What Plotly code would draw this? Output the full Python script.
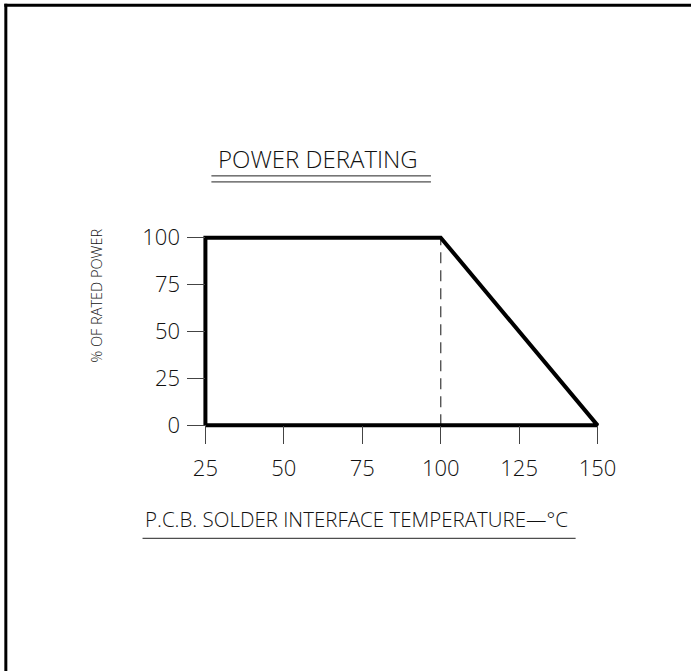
import plotly.graph_objects as go

# ---- data ----
temp_pts = [25, 25, 100, 150, 25]        # derating outline, temperature (°C)
power_pts = [0, 100, 100, 0, 0]          # % of rated power
knee_temp = [100, 100]                   # dashed knee marker
knee_power = [0, 100]
x_ticks = [25, 50, 75, 100, 125, 150]
y_ticks = [0, 25, 50, 75, 100]
title_text = "POWER DERATING"
x_title = "P.C.B. SOLDER INTERFACE TEMPERATURE\u2014\u00b0C"
y_title = "% OF RATED POWER"

W, H = 691, 671
# plot geometry (pixels)
X0PX, X1PX = 205, 598      # x=25 .. x=150
Y0PX, Y1PX = 425, 238      # y=0 .. y=100
xmin_d, xmax_d = min(x_ticks), max(x_ticks)
ymin_d, ymax_d = min(y_ticks), max(y_ticks)
padx, pady = 3, 3
sx = (X1PX - X0PX) / (xmax_d - xmin_d)
sy = (Y0PX - Y1PX) / (ymax_d - ymin_d)
xr = [xmin_d - padx, xmax_d + padx]
yr = [ymin_d - pady, ymax_d + pady]
L = X0PX - padx * sx
R = W - (X1PX + padx * sx)
T = Y1PX - pady * sy
B = H - (Y0PX + pady * sy)
PW = W - L - R
PH = H - T - B

def px(x):
    return (x - L) / PW

def py(y):
    return 1 - (y - T) / PH

FONT = "Open Sans"
TXT = "#111111"

fig = go.Figure()
fig.add_trace(go.Scatter(x=knee_temp, y=knee_power, mode="lines",
                         line=dict(color="#555555", width=1.4, dash="11px,7px"),
                         hoverinfo="skip", showlegend=False))
fig.add_trace(go.Scatter(x=temp_pts, y=power_pts, mode="lines",
                         line=dict(color="black", width=4),
                         hoverinfo="skip", showlegend=False))

shapes = [
    # drawing frame
    dict(type="line", xref="paper", yref="paper", x0=px(5), x1=px(5), y0=py(5), y1=py(H + 2),
         line=dict(color="black", width=3)),
    dict(type="line", xref="paper", yref="paper", x0=px(3.5), x1=px(W + 2), y0=py(6.5), y1=py(6.5),
         line=dict(color="black", width=3)),
    # title double underline
    dict(type="line", xref="paper", yref="paper", x0=px(211), x1=px(431), y0=py(176.5), y1=py(176.5),
         line=dict(color="#222222", width=1)),
    dict(type="line", xref="paper", yref="paper", x0=px(211), x1=px(431), y0=py(182.5), y1=py(182.5),
         line=dict(color="#222222", width=1)),
    # x title underline
    dict(type="line", xref="paper", yref="paper", x0=px(142), x1=px(576), y0=py(537.5), y1=py(537.5),
         line=dict(color="#222222", width=1)),
]

annotations = [
    dict(text=title_text, xref="paper", yref="paper", x=px(318), y=py(159), showarrow=False,
         xanchor="center", yanchor="middle", font=dict(family=FONT, size=24, color=TXT, weight=300)),
    dict(text=x_title, xref="paper", yref="paper", x=px(142), y=py(518), showarrow=False,
         xanchor="left", yanchor="middle", font=dict(family=FONT, size=20.5, color=TXT, weight=300)),
    dict(text=y_title, xref="paper", yref="paper", x=px(96), y=py(296), showarrow=False,
         textangle=-90, xanchor="center", yanchor="middle",
         font=dict(family=FONT, size=14.5, color=TXT, weight=300)),
]

fig.update_layout(
    width=W, height=H,
    margin=dict(l=L, r=R, t=T, b=B, pad=0),
    paper_bgcolor="white", plot_bgcolor="white",
    showlegend=False,
    shapes=shapes, annotations=annotations,
    xaxis=dict(range=xr, tickvals=x_ticks, ticktext=[str(v) for v in x_ticks],
               ticks="outside", ticklen=18, tickwidth=1.3, tickcolor="#444444",
               showgrid=False, zeroline=False, showline=False,
               anchor="free", position=(0 - yr[0]) / (yr[1] - yr[0]),
               ticklabelstandoff=5,
               tickfont=dict(family=FONT, size=22, color=TXT, weight=300), fixedrange=True),
    yaxis=dict(range=yr, tickvals=y_ticks, ticktext=[str(v) for v in y_ticks],
               ticks="outside", ticklen=18, tickwidth=1.3, tickcolor="#444444",
               showgrid=False, zeroline=False, showline=False,
               anchor="free", position=(xmin_d - xr[0]) / (xr[1] - xr[0]),
               ticklabelstandoff=3,
               tickfont=dict(family=FONT, size=22, color=TXT, weight=300), fixedrange=True),
)

fig.write_html("out.html", config={"displayModeBar": False},
               post_script="document.body.style.margin='0';document.body.style.overflow='hidden';")
